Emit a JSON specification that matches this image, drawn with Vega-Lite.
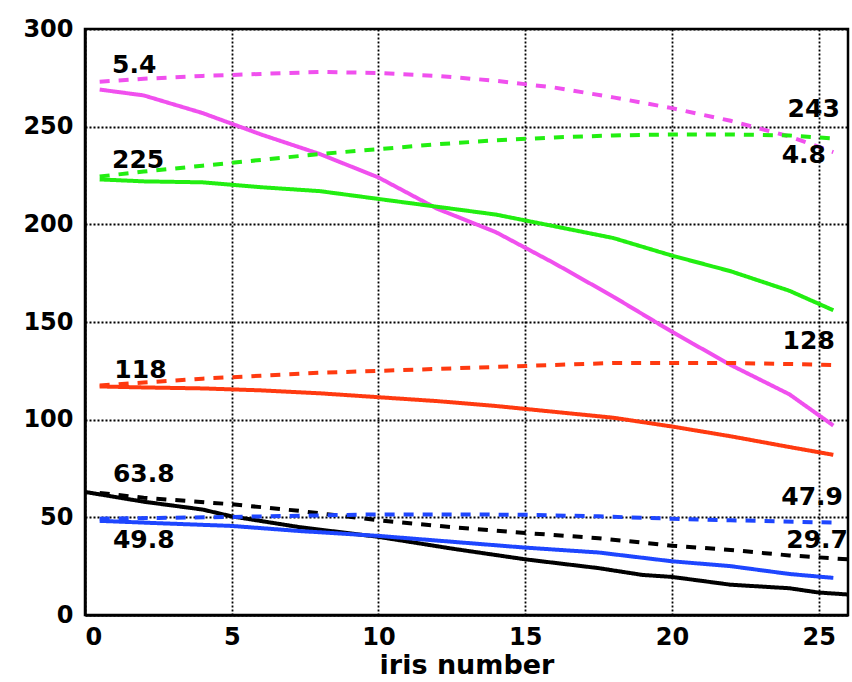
{
  "$schema": "https://vega.github.io/schema/vega-lite/v6.json",
  "width": 763,
  "height": 586,
  "autosize": {"type": "none"},
  "padding": {"left": 85, "top": 29, "right": 4, "bottom": 67},
  "background": "white",
  "datasets": {
    "curves": [
      {"curve": "magenta", "kind": "solid", "x": 0.5, "y": 269},
      {"curve": "magenta", "kind": "solid", "x": 2, "y": 266},
      {"curve": "magenta", "kind": "solid", "x": 4, "y": 257},
      {"curve": "magenta", "kind": "solid", "x": 6, "y": 246},
      {"curve": "magenta", "kind": "solid", "x": 8, "y": 236},
      {"curve": "magenta", "kind": "solid", "x": 10, "y": 224},
      {"curve": "magenta", "kind": "solid", "x": 11, "y": 216},
      {"curve": "magenta", "kind": "solid", "x": 12, "y": 208},
      {"curve": "magenta", "kind": "solid", "x": 14, "y": 196},
      {"curve": "magenta", "kind": "solid", "x": 16, "y": 180},
      {"curve": "magenta", "kind": "solid", "x": 18, "y": 163},
      {"curve": "magenta", "kind": "solid", "x": 20, "y": 145},
      {"curve": "magenta", "kind": "solid", "x": 22, "y": 128},
      {"curve": "magenta", "kind": "solid", "x": 24, "y": 113},
      {"curve": "magenta", "kind": "solid", "x": 25.5, "y": 97},
      {"curve": "magenta", "kind": "dashed", "x": 0.5, "y": 273},
      {"curve": "magenta", "kind": "dashed", "x": 2, "y": 274.5},
      {"curve": "magenta", "kind": "dashed", "x": 4, "y": 276},
      {"curve": "magenta", "kind": "dashed", "x": 6, "y": 277},
      {"curve": "magenta", "kind": "dashed", "x": 8, "y": 278},
      {"curve": "magenta", "kind": "dashed", "x": 10, "y": 277.5},
      {"curve": "magenta", "kind": "dashed", "x": 12, "y": 276},
      {"curve": "magenta", "kind": "dashed", "x": 14, "y": 273.5},
      {"curve": "magenta", "kind": "dashed", "x": 16, "y": 270},
      {"curve": "magenta", "kind": "dashed", "x": 18, "y": 265},
      {"curve": "magenta", "kind": "dashed", "x": 20, "y": 259.5},
      {"curve": "magenta", "kind": "dashed", "x": 22, "y": 253},
      {"curve": "magenta", "kind": "dashed", "x": 24, "y": 245},
      {"curve": "magenta", "kind": "dashed", "x": 25.5, "y": 237},
      {"curve": "green", "kind": "solid", "x": 0.5, "y": 223},
      {"curve": "green", "kind": "solid", "x": 2, "y": 222},
      {"curve": "green", "kind": "solid", "x": 4, "y": 221.5},
      {"curve": "green", "kind": "solid", "x": 6, "y": 219},
      {"curve": "green", "kind": "solid", "x": 8, "y": 217},
      {"curve": "green", "kind": "solid", "x": 10, "y": 213},
      {"curve": "green", "kind": "solid", "x": 12, "y": 209},
      {"curve": "green", "kind": "solid", "x": 14, "y": 205},
      {"curve": "green", "kind": "solid", "x": 16, "y": 199},
      {"curve": "green", "kind": "solid", "x": 18, "y": 193},
      {"curve": "green", "kind": "solid", "x": 20, "y": 184},
      {"curve": "green", "kind": "solid", "x": 22, "y": 176},
      {"curve": "green", "kind": "solid", "x": 24, "y": 166},
      {"curve": "green", "kind": "solid", "x": 25.5, "y": 156},
      {"curve": "green", "kind": "dashed", "x": 0.5, "y": 224.5},
      {"curve": "green", "kind": "dashed", "x": 2, "y": 227},
      {"curve": "green", "kind": "dashed", "x": 4, "y": 230},
      {"curve": "green", "kind": "dashed", "x": 6, "y": 233},
      {"curve": "green", "kind": "dashed", "x": 8, "y": 236},
      {"curve": "green", "kind": "dashed", "x": 10, "y": 238.5},
      {"curve": "green", "kind": "dashed", "x": 12, "y": 241},
      {"curve": "green", "kind": "dashed", "x": 14, "y": 243},
      {"curve": "green", "kind": "dashed", "x": 16, "y": 244.5},
      {"curve": "green", "kind": "dashed", "x": 18, "y": 245.5},
      {"curve": "green", "kind": "dashed", "x": 20, "y": 246},
      {"curve": "green", "kind": "dashed", "x": 22, "y": 246},
      {"curve": "green", "kind": "dashed", "x": 24, "y": 245.5},
      {"curve": "green", "kind": "dashed", "x": 25.5, "y": 244},
      {"curve": "red", "kind": "solid", "x": 0.5, "y": 117},
      {"curve": "red", "kind": "solid", "x": 2, "y": 116.5},
      {"curve": "red", "kind": "solid", "x": 4, "y": 116},
      {"curve": "red", "kind": "solid", "x": 6, "y": 115},
      {"curve": "red", "kind": "solid", "x": 8, "y": 113.5},
      {"curve": "red", "kind": "solid", "x": 10, "y": 111.5},
      {"curve": "red", "kind": "solid", "x": 12, "y": 109.5},
      {"curve": "red", "kind": "solid", "x": 14, "y": 107},
      {"curve": "red", "kind": "solid", "x": 16, "y": 104},
      {"curve": "red", "kind": "solid", "x": 18, "y": 101},
      {"curve": "red", "kind": "solid", "x": 20, "y": 96.5},
      {"curve": "red", "kind": "solid", "x": 22, "y": 91.5},
      {"curve": "red", "kind": "solid", "x": 24, "y": 86},
      {"curve": "red", "kind": "solid", "x": 25.5, "y": 82},
      {"curve": "red", "kind": "dashed", "x": 0.5, "y": 117.5},
      {"curve": "red", "kind": "dashed", "x": 2, "y": 119},
      {"curve": "red", "kind": "dashed", "x": 4, "y": 121},
      {"curve": "red", "kind": "dashed", "x": 6, "y": 122.5},
      {"curve": "red", "kind": "dashed", "x": 8, "y": 124},
      {"curve": "red", "kind": "dashed", "x": 10, "y": 125},
      {"curve": "red", "kind": "dashed", "x": 12, "y": 126},
      {"curve": "red", "kind": "dashed", "x": 14, "y": 127},
      {"curve": "red", "kind": "dashed", "x": 16, "y": 128},
      {"curve": "red", "kind": "dashed", "x": 18, "y": 129},
      {"curve": "red", "kind": "dashed", "x": 20, "y": 129},
      {"curve": "red", "kind": "dashed", "x": 22, "y": 129},
      {"curve": "red", "kind": "dashed", "x": 24, "y": 128.5},
      {"curve": "red", "kind": "dashed", "x": 25.5, "y": 128},
      {"curve": "black", "kind": "solid", "x": 0, "y": 63},
      {"curve": "black", "kind": "solid", "x": 2, "y": 58},
      {"curve": "black", "kind": "solid", "x": 4, "y": 54},
      {"curve": "black", "kind": "solid", "x": 5, "y": 50.5},
      {"curve": "black", "kind": "solid", "x": 7.3, "y": 45},
      {"curve": "black", "kind": "solid", "x": 10, "y": 40},
      {"curve": "black", "kind": "solid", "x": 12.5, "y": 34},
      {"curve": "black", "kind": "solid", "x": 15, "y": 28.5},
      {"curve": "black", "kind": "solid", "x": 17.5, "y": 24},
      {"curve": "black", "kind": "solid", "x": 19, "y": 20.5},
      {"curve": "black", "kind": "solid", "x": 20, "y": 19.5},
      {"curve": "black", "kind": "solid", "x": 22, "y": 15.5},
      {"curve": "black", "kind": "solid", "x": 24, "y": 13.7},
      {"curve": "black", "kind": "solid", "x": 25, "y": 11.5},
      {"curve": "black", "kind": "solid", "x": 26, "y": 10.5},
      {"curve": "black", "kind": "dashed", "x": 0.5, "y": 62.5},
      {"curve": "black", "kind": "dashed", "x": 2, "y": 60},
      {"curve": "black", "kind": "dashed", "x": 5, "y": 56.7},
      {"curve": "black", "kind": "dashed", "x": 7.3, "y": 53.3},
      {"curve": "black", "kind": "dashed", "x": 10, "y": 48.5},
      {"curve": "black", "kind": "dashed", "x": 12.5, "y": 45},
      {"curve": "black", "kind": "dashed", "x": 15, "y": 42},
      {"curve": "black", "kind": "dashed", "x": 17.5, "y": 39.3},
      {"curve": "black", "kind": "dashed", "x": 20, "y": 35.5},
      {"curve": "black", "kind": "dashed", "x": 22, "y": 33.3},
      {"curve": "black", "kind": "dashed", "x": 24, "y": 30.5},
      {"curve": "black", "kind": "dashed", "x": 26, "y": 28.5},
      {"curve": "blue", "kind": "solid", "x": 0.5, "y": 48.2},
      {"curve": "blue", "kind": "solid", "x": 2.5, "y": 47},
      {"curve": "blue", "kind": "solid", "x": 5, "y": 45.6},
      {"curve": "blue", "kind": "solid", "x": 7.3, "y": 43},
      {"curve": "blue", "kind": "solid", "x": 10, "y": 40.5},
      {"curve": "blue", "kind": "solid", "x": 12.5, "y": 37.5},
      {"curve": "blue", "kind": "solid", "x": 15, "y": 34.5},
      {"curve": "blue", "kind": "solid", "x": 17.5, "y": 32},
      {"curve": "blue", "kind": "solid", "x": 20, "y": 27.5},
      {"curve": "blue", "kind": "solid", "x": 22, "y": 25},
      {"curve": "blue", "kind": "solid", "x": 24, "y": 21},
      {"curve": "blue", "kind": "solid", "x": 25.5, "y": 19},
      {"curve": "blue", "kind": "dashed", "x": 0.5, "y": 49.3},
      {"curve": "blue", "kind": "dashed", "x": 2.5, "y": 49.7},
      {"curve": "blue", "kind": "dashed", "x": 5, "y": 50.2},
      {"curve": "blue", "kind": "dashed", "x": 7.3, "y": 50.8},
      {"curve": "blue", "kind": "dashed", "x": 10, "y": 51.5},
      {"curve": "blue", "kind": "dashed", "x": 12.5, "y": 51.5},
      {"curve": "blue", "kind": "dashed", "x": 15, "y": 51.3},
      {"curve": "blue", "kind": "dashed", "x": 17.5, "y": 50.5},
      {"curve": "blue", "kind": "dashed", "x": 20, "y": 49.3},
      {"curve": "blue", "kind": "dashed", "x": 22, "y": 48.5},
      {"curve": "blue", "kind": "dashed", "x": 25.5, "y": 47.3}
    ],
    "labels": [
      {"text": "5.4", "x": 0.92, "y": 281.6, "side": "left"},
      {"text": "225", "x": 0.92, "y": 233, "side": "left"},
      {"text": "118", "x": 1.0, "y": 125.4, "side": "left"},
      {"text": "63.8", "x": 0.95, "y": 72.2, "side": "left"},
      {"text": "49.8", "x": 0.95, "y": 38.4, "side": "left"},
      {"text": "243", "x": 25.72, "y": 259, "side": "right"},
      {"text": "4.8", "x": 25.25, "y": 235.5, "side": "right"},
      {"text": "128", "x": 25.55, "y": 140.3, "side": "right"},
      {"text": "47.9", "x": 25.83, "y": 60.4, "side": "right"},
      {"text": "29.7", "x": 26.0, "y": 38.4, "side": "right"}
    ]
  },
  "layer": [
    {
      "data": {"name": "curves"},
      "mark": {"type": "line", "strokeWidth": 4, "clip": true},
      "encoding": {
        "x": {
          "field": "x", "type": "quantitative",
          "scale": {"domain": [0, 26], "nice": false, "zero": false},
          "axis": {"values": [0, 5, 10, 15, 20, 25], "title": "iris number"}
        },
        "y": {
          "field": "y", "type": "quantitative",
          "scale": {"domain": [0, 300], "nice": false},
          "axis": {"values": [0, 50, 100, 150, 200, 250, 300], "title": null}
        },
        "color": {
          "field": "curve", "type": "nominal", "legend": null,
          "scale": {
            "domain": ["magenta", "green", "red", "black", "blue"],
            "range": ["#f050ee", "#22ee11", "#ff3a10", "#000000", "#1e46ff"]
          }
        },
        "strokeDash": {
          "field": "kind", "type": "nominal", "legend": null,
          "scale": {"domain": ["solid", "dashed"], "range": [[1, 0], [10, 9]]}
        },
        "detail": {"field": "kind"}
      }
    },
    {
      "data": {"name": "labels"},
      "transform": [{"filter": "datum.side === 'left'"}],
      "mark": {"type": "text", "align": "left", "baseline": "middle", "font": "DejaVu Sans", "fontWeight": "bold", "fontSize": 25, "color": "black"},
      "encoding": {
        "x": {"field": "x", "type": "quantitative"},
        "y": {"field": "y", "type": "quantitative"},
        "text": {"field": "text"}
      }
    },
    {
      "data": {"name": "labels"},
      "transform": [{"filter": "datum.side === 'right'"}],
      "mark": {"type": "text", "align": "right", "baseline": "middle", "font": "DejaVu Sans", "fontWeight": "bold", "fontSize": 25, "color": "black"},
      "encoding": {
        "x": {"field": "x", "type": "quantitative"},
        "y": {"field": "y", "type": "quantitative"},
        "text": {"field": "text"}
      }
    }
  ],
  "config": {
    "view": {"stroke": "black", "strokeWidth": 2.5},
    "axis": {
      "domainColor": "black",
      "domainWidth": 2.5,
      "ticks": false,
      "grid": true,
      "gridColor": "black",
      "gridDash": [2, 2],
      "gridWidth": 1.8,
      "gridOpacity": 1,
      "labelFont": "DejaVu Sans",
      "labelFontWeight": "bold",
      "labelFontSize": 24,
      "labelColor": "black",
      "titleFont": "DejaVu Sans",
      "titleFontWeight": "bold",
      "titleFontSize": 27,
      "titleColor": "black"
    },
    "axisX": {"labelPadding": 10, "titlePadding": 3},
    "axisY": {"labelPadding": 12}
  }
}
